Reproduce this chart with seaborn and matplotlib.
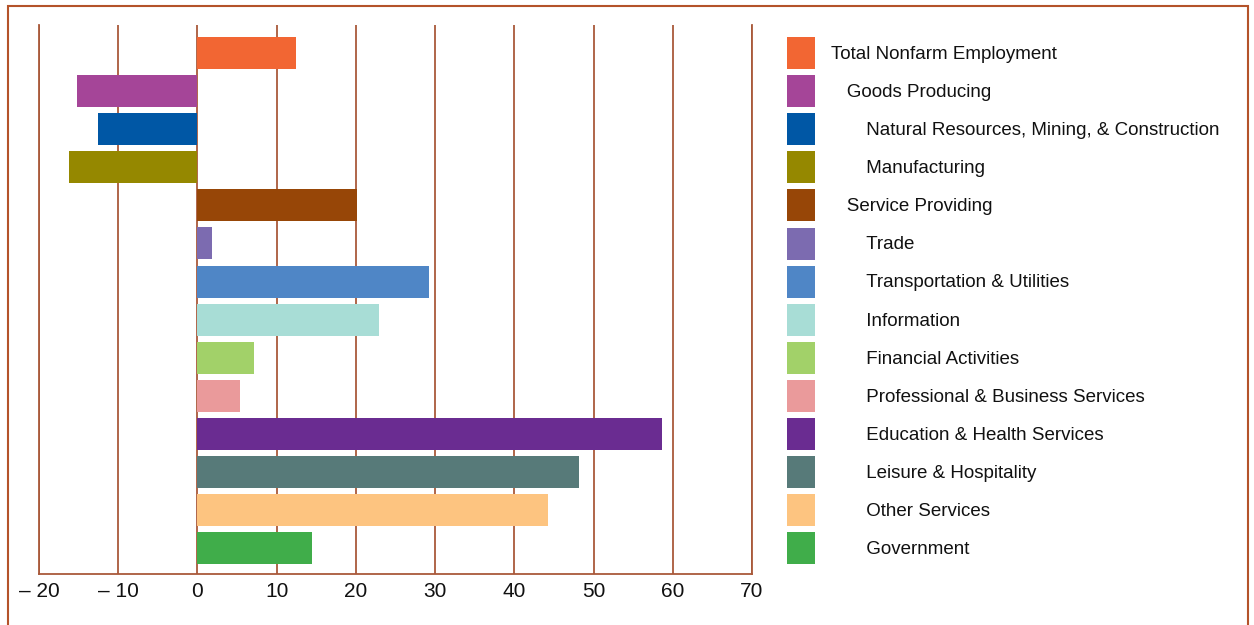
import matplotlib
matplotlib.use("Agg")
import matplotlib.pyplot as plt
from matplotlib.patches import Patch, Rectangle
import seaborn as sns
import pandas as pd

# Data (percent change)
categories = [
    "Total Nonfarm Employment", "Goods Producing",
    "Natural Resources, Mining, & Construction", "Manufacturing",
    "Service Providing", "Trade", "Transportation & Utilities", "Information",
    "Financial Activities", "Professional & Business Services",
    "Education & Health Services", "Leisure & Hospitality", "Other Services",
    "Government",
]
values = [12.4, -15.2, -12.6, -16.2, 20.1, 1.8, 29.2, 22.9, 7.2, 5.4, 58.6, 48.2, 44.2, 14.4]
levels = [0, 1, 2, 2, 1, 2, 2, 2, 2, 2, 2, 2, 2, 2]
colors = ["#F26633", "#A54598", "#0057A5", "#958800", "#974607", "#7C6BB0", "#4F86C6",
          "#A8DDD6", "#A2D169", "#EA9A9B", "#6A2C91", "#577A79", "#FDC480", "#40AD4A"]
xticks = [-20, -10, 0, 10, 20, 30, 40, 50, 60, 70]
xticklabels = ["\u2013 20", "\u2013 10", "0", "10", "20", "30", "40", "50", "60", "70"]

df = pd.DataFrame({"category": categories, "value": values})

sns.set_style("white")
plt.rcParams["font.family"] = ["Liberation Sans", "DejaVu Sans"]
plt.rcParams["text.color"] = "#111111"
plt.rcParams["xtick.color"] = "#111111"

GRID = "#A9593A"
FRAME = "#B4532A"

fig = plt.figure(figsize=(12.54, 6.25), dpi=100)
ax = fig.add_axes([39 / 1254, 51 / 625, (752 - 39) / 1254, (574 - 25) / 625])

sns.barplot(data=df, y="category", x="value", hue="category",
            palette=dict(zip(categories, colors)), orient="h",
            width=0.84, saturation=1, legend=False, linewidth=0, ax=ax, zorder=3)

ax.set_xlim(-20, 70)
ax.set_ylim(len(categories) - 1 + 0.68, -0.735)
ax.set_xticks(xticks)
ax.set_xticklabels(xticklabels, fontsize=15)
ax.set_yticks([])
ax.set_xlabel("")
ax.set_ylabel("")
ax.tick_params(axis="x", length=0, pad=6, labelcolor="#111111")
ax.xaxis.grid(True, color=GRID, linewidth=1.3, zorder=0)
ax.set_axisbelow(True)
ax.spines["top"].set_visible(False)
for side in ["bottom", "left", "right"]:
    ax.spines[side].set_color(GRID)
    ax.spines[side].set_linewidth(1.3)

# legend with indented labels
fs = 13.5
fs_px = fs * 100 / 72
box_h = 32 / fs_px
hh = (box_h - 0.245) / 0.65
handles = [Patch(facecolor=c, edgecolor="none") for c in colors]
indent = {0: "", 1: "   ", 2: "      \u2009"}
labels = [indent[lv] + c for c, lv in zip(categories, levels)]
fig.legend(handles, labels, loc="upper left", bbox_to_anchor=(787 / 1254, 1 - 37 / 625),
           frameon=False, fontsize=fs, borderpad=0, borderaxespad=0,
           handlelength=28 / fs_px, handleheight=hh,
           labelspacing=(38.1 - 32) / fs_px, handletextpad=16 / fs_px)

# outer frame
fig.patches.append(Rectangle((8 / 1254, -0.05), (1248 - 8) / 1254, 1.05 - 6 / 625,
                             transform=fig.transFigure, fill=False,
                             edgecolor=FRAME, linewidth=1.5))

fig.savefig("out.png", dpi=100)
